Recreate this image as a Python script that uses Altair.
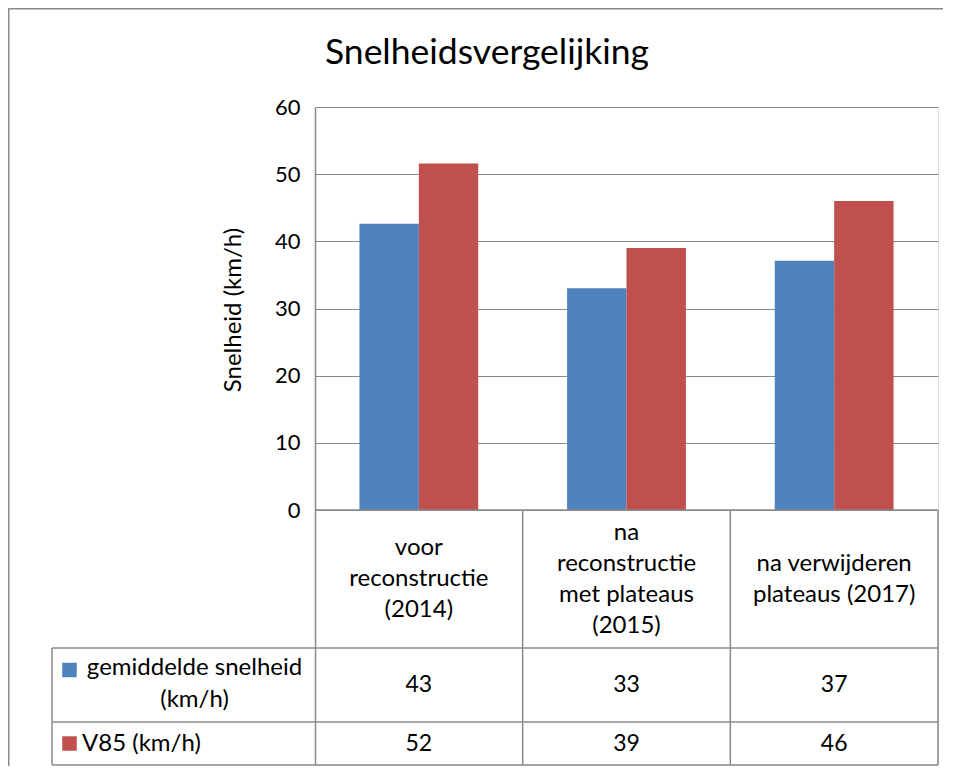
import altair as alt

# ---- data ----
categories = ["voor reconstructie (2014)", "na reconstructie met plateaus (2015)", "na verwijderen plateaus (2017)"]
category_lines = [["voor", "reconstructie", "(2014)"],
                  ["na", "reconstructie", "met plateaus", "(2015)"],
                  ["na verwijderen", "plateaus (2017)"]]
series = ["gemiddelde snelheid (km/h)", "V85 (km/h)"]
series_lines = [["gemiddelde snelheid", "(km/h)"], ["V85 (km/h)"]]
gemiddelde = [42.6, 33.0, 37.1]
v85 = [51.6, 39.0, 46.0]
y_ticks = [0, 10, 20, 30, 40, 50, 60]
colors = ["#4F81BD", "#C0504D"]
title_text = "Snelheidsvergelijking"
y_title = "Snelheid (km/h)"

# ---- layout (pixels, plot origin at top-left of plot area) ----
FONT = "Lato"
TXT = 24
NUM = 23
W = 623
H_BARS = 403
HEADER_BOTTOM = H_BARS + 138
ROW1_BOTTOM = HEADER_BOTTOM + 74
TABLE_BOTTOM = ROW1_BOTTOM + 43
TABLE_LEFT = -263
PAD_LEFT = 307
PAD_TOP = 99
PAD_RIGHT = 5
Y_MAX = 60
Y_MIN = -(TABLE_BOTTOM - H_BARS) / H_BARS * Y_MAX
LINE = "#8a8a8a"
LH = 31

records = [{"cat": c, "series": s, "value": v}
           for s, vals in zip(series, [gemiddelde, v85])
           for c, v in zip(categories, vals)]

x_scale = alt.Scale(domain=categories, paddingInner=0, paddingOuter=0)
color_scale = alt.Scale(domain=series, range=colors)

# outer chart border (only top and left edges fall inside the drawing)
BORDER_Y = -(PAD_TOP - 0.75)
BORDER_X = -(PAD_LEFT - 0.75)
border = alt.Chart(alt.Data(values=[{}])).mark_rect(
    fill="transparent", stroke="#8a8a8a", strokeWidth=1.5
).encode(x=alt.value(BORDER_X), x2=alt.value(W + PAD_RIGHT + 30),
         y=alt.value(BORDER_Y), y2=alt.value(TABLE_BOTTOM + 30))

bars = alt.Chart(alt.Data(values=records)).mark_bar().encode(
    x=alt.X("cat:N", scale=x_scale, axis=None),
    xOffset=alt.XOffset("series:N", scale=alt.Scale(domain=series, paddingInner=0, paddingOuter=0.748)),
    y=alt.Y("value:Q",
            scale=alt.Scale(domain=[Y_MIN, Y_MAX], nice=False, zero=False),
            axis=alt.Axis(values=y_ticks, title=y_title, grid=True, ticks=False,
                          labelPadding=15, labelFontSize=22, labelColor="#000", labelFont=FONT,
                          titleFontSize=24, titleFont=FONT, titleColor="#000", titleFontWeight="normal",
                          titleX=-82, titleY=202.5, titleAngle=270, titleAlign="center",
                          titleBaseline="middle",
                          domainColor=LINE, domainWidth=1.5, gridColor=LINE, gridWidth=1)),
    color=alt.Color("series:N", scale=color_scale, legend=None),
)

layers = [border, bars]

header_center = (H_BARS + HEADER_BOTTOM) / 2
for c, lines in zip(categories, category_lines):
    layers.append(
        alt.Chart(alt.Data(values=[{"cat": c, "txt": "\n".join(lines)}])).mark_text(
            fontSize=TXT, lineHeight=LH, baseline="middle", align="center", color="#000",
            font=FONT, lineBreak="\n"
        ).encode(
            x=alt.X("cat:N", scale=x_scale, axis=None),
            y=alt.value(header_center - (len(lines) - 1) * LH / 2),
            text="txt:N",
        )
    )

row_centers = [(HEADER_BOTTOM + ROW1_BOTTOM) / 2, (ROW1_BOTTOM + TABLE_BOTTOM) / 2]
for s, rc in zip(series, row_centers):
    layers.append(
        alt.Chart(alt.Data(values=records)).transform_filter(alt.datum.series == s).mark_text(
            fontSize=NUM, baseline="middle", align="center", color="#000", font=FONT
        ).encode(
            x=alt.X("cat:N", scale=x_scale, axis=None),
            y=alt.value(rc),
            text=alt.Text("value:Q", format=".0f"),
        )
    )

label_data = [{"series": s, "txt": "\n".join(l)} for s, l in zip(series, series_lines)]
layers.append(
    alt.Chart(alt.Data(values=label_data)).transform_filter(alt.datum.series == series[0]).mark_text(
        fontSize=TXT, lineHeight=32, baseline="middle", align="center", color="#000", font=FONT, lineBreak="\n"
    ).encode(x=alt.value(-120.5), y=alt.value(row_centers[0] - 17), text="txt:N")
)
layers.append(
    alt.Chart(alt.Data(values=label_data)).transform_filter(alt.datum.series == series[1]).mark_text(
        fontSize=TXT, baseline="middle", align="left", color="#000", font=FONT
    ).encode(x=alt.value(-233), y=alt.value(row_centers[1]), text="txt:N")
)
for s, ky in zip(series, [row_centers[0] - 15, row_centers[1]]):
    layers.append(
        alt.Chart(alt.Data(values=label_data)).transform_filter(alt.datum.series == s).mark_square(
            size=210, opacity=1
        ).encode(x=alt.value(-245.5), y=alt.value(ky),
                 color=alt.Color("series:N", scale=color_scale, legend=None))
    )

def rule(x1, x2, y1, y2, w=1.5, c=LINE):
    return alt.Chart(alt.Data(values=[{}])).mark_rule(color=c, strokeWidth=w).encode(
        x=alt.value(x1), x2=alt.value(x2), y=alt.value(y1), y2=alt.value(y2))

layers.append(rule(0, W, H_BARS, H_BARS))
for yy in [HEADER_BOTTOM, ROW1_BOTTOM, TABLE_BOTTOM]:
    layers.append(rule(TABLE_LEFT, W, yy, yy))
layers.append(rule(TABLE_LEFT, TABLE_LEFT, HEADER_BOTTOM, TABLE_BOTTOM))
for i in range(1, 4):
    xx = W * i / 3
    layers.append(rule(xx, xx, H_BARS, TABLE_BOTTOM))

layers.append(
    alt.Chart(alt.Data(values=[{}])).mark_text(
        fontSize=35.5, baseline="alphabetic", align="center", color="#000", font=FONT, text=title_text
    ).encode(x=alt.value(172), y=alt.value(-43))
)

chart = alt.layer(*layers).properties(
    width=W, height=TABLE_BOTTOM,
    autosize=alt.AutoSizeParams(type="none"),
    padding={"left": PAD_LEFT, "top": PAD_TOP, "right": PAD_RIGHT, "bottom": 1},
).configure_view(stroke=None).configure(font=FONT)

chart.save("out.html", embed_options={"renderer": "svg", "actions": False})
